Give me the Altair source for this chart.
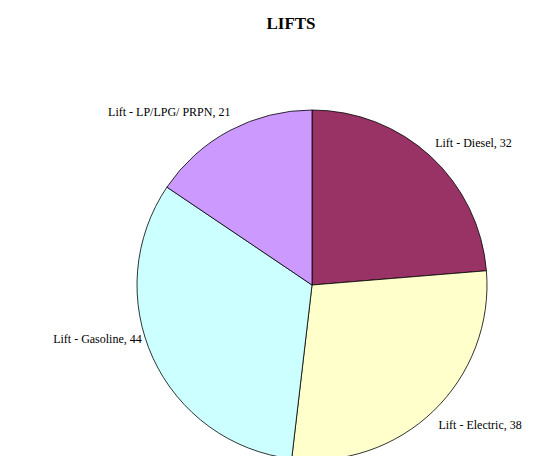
import altair as alt
import pandas as pd

categories = ["Lift - Diesel", "Lift - Electric", "Lift - Gasoline", "Lift - LP/LPG/ PRPN"]
values = [32, 38, 44, 21]
colors = ["#993366", "#FFFFCC", "#CCFFFF", "#CC99FF"]

df = pd.DataFrame({"category": categories, "value": values, "order": list(range(len(categories)))})
df["label"] = df["category"] + ", " + df["value"].astype(str)
total = sum(values)

theta_scale = alt.Scale(domain=[0, total])

pie = alt.Chart(df).mark_arc(radius=175, stroke="black", strokeWidth=0.8).encode(
    theta=alt.Theta("value:Q", stack=True, scale=theta_scale),
    order=alt.Order("order:Q"),
    color=alt.Color("category:N", scale=alt.Scale(domain=categories, range=colors), legend=None),
)

# label style nudges: (align, dx, dy)
label_style = {
    "Lift - Diesel": ("left", -9, 1),
    "Lift - Electric": ("left", -9, 0),
    "Lift - Gasoline": ("right", 7, -27),
    "Lift - LP/LPG/ PRPN": ("right", 10, -1),
}

layers = [pie]
for cat in categories:
    align, dx, dy = label_style[cat]
    t = (
        alt.Chart(df)
        .transform_window(cum="sum(value)", sort=[alt.SortField("order")])
        .transform_calculate(mid="datum.cum - datum.value / 2")
        .transform_filter(alt.datum.category == cat)
        .mark_text(radius=195, align=align, baseline="middle", dx=dx, dy=dy,
                   font="Liberation Serif", fontSize=12, color="black")
        .encode(theta=alt.Theta("mid:Q", stack=None, scale=theta_scale), text="label:N")
    )
    layers.append(t)

chart = alt.layer(*layers).properties(
    width=478,
    height=342,
    title=alt.Title("LIFTS", font="Liberation Serif", fontSize=17, fontWeight="bold",
                    anchor="middle", dx=-21, offset=60, frame="group",
                    baseline="alphabetic", color="black"),
    autosize=alt.AutoSizeParams(type="none"),
    padding={"left": 65, "top": 106, "right": 0, "bottom": 0},
).configure_view(stroke=None).configure(background="white")

chart.save("out.html", embed_options={"renderer": "svg", "actions": False})
